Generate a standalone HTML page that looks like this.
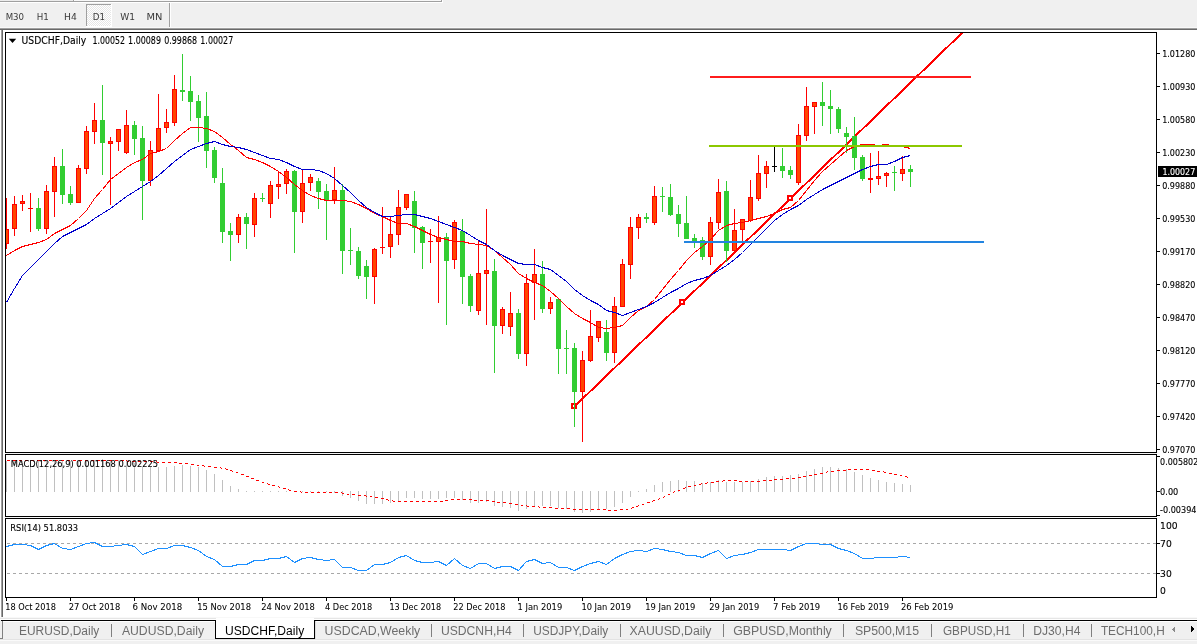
<!DOCTYPE html>
<html><head><meta charset="utf-8"><title>USDCHF,Daily</title>
<style>
html,body{margin:0;padding:0;background:#f0f0f0;overflow:hidden;}
svg{display:block;}
text{font-family:"DejaVu Sans", sans-serif;}
text.l{font-family:"Liberation Sans", Arial, sans-serif;}
</style></head>
<body>
<svg width="1197" height="644" viewBox="0 0 1197 644" shape-rendering="crispEdges">
<defs><pattern id="chk" width="2" height="2" patternUnits="userSpaceOnUse"><rect width="2" height="2" fill="#ffffff"/><rect width="1" height="1" fill="#e6e6e6"/><rect x="1" y="1" width="1" height="1" fill="#e6e6e6"/></pattern></defs>
<rect x="0" y="0" width="1197" height="644" fill="#f0f0f0"/>
<rect x="0" y="0" width="73" height="1" fill="#ececec"/>
<rect x="74" y="0" width="367" height="1" fill="#f8f8f8"/>
<rect x="74" y="0" width="1" height="1" fill="#ffffff"/>
<rect x="0" y="1" width="442" height="1" fill="#a0a0a0"/>
<rect x="73" y="0" width="1" height="2" fill="#a0a0a0"/>
<rect x="441" y="0" width="1" height="2" fill="#a0a0a0"/>
<rect x="0" y="2" width="443" height="1" fill="#ffffff"/>
<rect x="442" y="0" width="1" height="3" fill="#ffffff"/>
<rect x="86" y="4" width="26" height="23" fill="#ffffff"/>
<rect x="87" y="5" width="24" height="21" fill="url(#chk)"/>
<rect x="86" y="4" width="25" height="1" fill="#a0a0a0"/>
<rect x="86" y="4" width="1" height="22" fill="#a0a0a0"/>
<rect x="169" y="3" width="1" height="25" fill="#a0a0a0"/>
<rect x="170" y="3" width="1" height="25" fill="#ffffff"/>
<text x="5.7" y="20" font-size="9.4" fill="#3a3a3a" textLength="18.4" lengthAdjust="spacingAndGlyphs">M30</text>
<text x="36.8" y="20" font-size="9.4" fill="#3a3a3a" textLength="12.1" lengthAdjust="spacingAndGlyphs">H1</text>
<text x="64" y="20" font-size="9.4" fill="#3a3a3a" textLength="12.8" lengthAdjust="spacingAndGlyphs">H4</text>
<text x="92.8" y="20" font-size="9.4" fill="#3a3a3a" textLength="12.2" lengthAdjust="spacingAndGlyphs">D1</text>
<text x="120.3" y="20" font-size="9.4" fill="#3a3a3a" textLength="14.8" lengthAdjust="spacingAndGlyphs">W1</text>
<text x="146.6" y="20" font-size="9.4" fill="#3a3a3a" textLength="15.9" lengthAdjust="spacingAndGlyphs">MN</text>
<rect x="0" y="27" width="1197" height="1" fill="#f8f8f8"/>
<rect x="0" y="28" width="1197" height="1" fill="#a0a0a0"/>
<rect x="1" y="28" width="1" height="590" fill="#a0a0a0"/>
<rect x="0" y="29" width="1197" height="1" fill="#696969"/>
<rect x="2" y="29" width="1" height="589" fill="#696969"/>
<rect x="3" y="30" width="1194" height="588" fill="#ffffff"/>
<rect x="0" y="30" width="1" height="588" fill="#ffffff"/>
<rect x="0" y="617" width="1197" height="1" fill="#f8f8f8"/>
<svg x="6" y="33" width="1150" height="419" viewBox="6 33 1150 419" overflow="hidden">
<polyline points="575,406 683,302 791,198 963,32" fill="none" stroke="#ff0000" stroke-width="2"/>
<rect x="571" y="403" width="6" height="6" fill="#ff0000"/>
<rect x="573" y="405" width="2" height="2" fill="#ffffff"/>
<rect x="679" y="299" width="6" height="6" fill="#ff0000"/>
<rect x="681" y="301" width="2" height="2" fill="#ffffff"/>
<rect x="787" y="195" width="6" height="6" fill="#ff0000"/>
<rect x="789" y="197" width="2" height="2" fill="#ffffff"/>
<rect x="6" y="198" width="1" height="51" fill="#ff0000"/>
<rect x="4" y="229" width="5" height="15" fill="#ff0000"/>
<rect x="5" y="230" width="3" height="13" fill="#ff4500"/>
<rect x="14" y="196" width="1" height="40" fill="#ff0000"/>
<rect x="12" y="204" width="5" height="25" fill="#ff0000"/>
<rect x="13" y="205" width="3" height="23" fill="#ff4500"/>
<rect x="22" y="195" width="1" height="16" fill="#ff0000"/>
<rect x="20" y="201" width="5" height="3" fill="#ff0000"/>
<rect x="21" y="202" width="3" height="1" fill="#ff4500"/>
<rect x="30" y="193" width="1" height="39" fill="#ff0000"/>
<rect x="28" y="208" width="5" height="1" fill="#ff0000"/>
<rect x="38" y="198" width="1" height="33" fill="#32cd32"/>
<rect x="36" y="208" width="5" height="21" fill="#32cd32"/>
<rect x="46" y="185" width="1" height="49" fill="#ff0000"/>
<rect x="44" y="191" width="5" height="38" fill="#ff0000"/>
<rect x="45" y="192" width="3" height="36" fill="#ff4500"/>
<rect x="54" y="157" width="1" height="60" fill="#ff0000"/>
<rect x="52" y="166" width="5" height="26" fill="#ff0000"/>
<rect x="53" y="167" width="3" height="24" fill="#ff4500"/>
<rect x="62" y="149" width="1" height="55" fill="#32cd32"/>
<rect x="60" y="166" width="5" height="29" fill="#32cd32"/>
<rect x="70" y="186" width="1" height="19" fill="#32cd32"/>
<rect x="68" y="194" width="5" height="9" fill="#32cd32"/>
<rect x="78" y="165" width="1" height="38" fill="#ff0000"/>
<rect x="76" y="168" width="5" height="35" fill="#ff0000"/>
<rect x="77" y="169" width="3" height="33" fill="#ff4500"/>
<rect x="86" y="126" width="1" height="48" fill="#ff0000"/>
<rect x="84" y="131" width="5" height="38" fill="#ff0000"/>
<rect x="85" y="132" width="3" height="36" fill="#ff4500"/>
<rect x="94" y="103" width="1" height="41" fill="#ff0000"/>
<rect x="92" y="120" width="5" height="12" fill="#ff0000"/>
<rect x="93" y="121" width="3" height="10" fill="#ff4500"/>
<rect x="102" y="85" width="1" height="90" fill="#32cd32"/>
<rect x="100" y="120" width="5" height="23" fill="#32cd32"/>
<rect x="110" y="137" width="1" height="68" fill="#ff0000"/>
<rect x="108" y="141" width="5" height="3" fill="#ff0000"/>
<rect x="109" y="142" width="3" height="1" fill="#ff4500"/>
<rect x="118" y="129" width="1" height="22" fill="#ff0000"/>
<rect x="116" y="129" width="5" height="13" fill="#ff0000"/>
<rect x="117" y="130" width="3" height="11" fill="#ff4500"/>
<rect x="126" y="110" width="1" height="44" fill="#ff0000"/>
<rect x="124" y="125" width="5" height="28" fill="#ff0000"/>
<rect x="125" y="126" width="3" height="26" fill="#ff4500"/>
<rect x="134" y="121" width="1" height="34" fill="#32cd32"/>
<rect x="132" y="125" width="5" height="14" fill="#32cd32"/>
<rect x="142" y="126" width="1" height="94" fill="#32cd32"/>
<rect x="140" y="138" width="5" height="43" fill="#32cd32"/>
<rect x="150" y="141" width="1" height="45" fill="#ff0000"/>
<rect x="148" y="150" width="5" height="31" fill="#ff0000"/>
<rect x="149" y="151" width="3" height="29" fill="#ff4500"/>
<rect x="158" y="94" width="1" height="57" fill="#ff0000"/>
<rect x="156" y="128" width="5" height="23" fill="#ff0000"/>
<rect x="157" y="129" width="3" height="21" fill="#ff4500"/>
<rect x="166" y="109" width="1" height="24" fill="#ff0000"/>
<rect x="164" y="122" width="5" height="6" fill="#ff0000"/>
<rect x="165" y="123" width="3" height="4" fill="#ff4500"/>
<rect x="174" y="75" width="1" height="51" fill="#ff0000"/>
<rect x="172" y="89" width="5" height="34" fill="#ff0000"/>
<rect x="173" y="90" width="3" height="32" fill="#ff4500"/>
<rect x="182" y="54" width="1" height="47" fill="#32cd32"/>
<rect x="180" y="90" width="5" height="2" fill="#32cd32"/>
<rect x="190" y="76" width="1" height="45" fill="#32cd32"/>
<rect x="188" y="91" width="5" height="11" fill="#32cd32"/>
<rect x="198" y="95" width="1" height="47" fill="#32cd32"/>
<rect x="196" y="101" width="5" height="17" fill="#32cd32"/>
<rect x="206" y="92" width="1" height="76" fill="#32cd32"/>
<rect x="204" y="116" width="5" height="35" fill="#32cd32"/>
<rect x="214" y="147" width="1" height="36" fill="#32cd32"/>
<rect x="212" y="150" width="5" height="28" fill="#32cd32"/>
<rect x="222" y="168" width="1" height="75" fill="#32cd32"/>
<rect x="220" y="183" width="5" height="49" fill="#32cd32"/>
<rect x="230" y="223" width="1" height="38" fill="#32cd32"/>
<rect x="228" y="231" width="5" height="4" fill="#32cd32"/>
<rect x="238" y="214" width="1" height="29" fill="#ff0000"/>
<rect x="236" y="217" width="5" height="18" fill="#ff0000"/>
<rect x="237" y="218" width="3" height="16" fill="#ff4500"/>
<rect x="246" y="213" width="1" height="36" fill="#32cd32"/>
<rect x="244" y="217" width="5" height="7" fill="#32cd32"/>
<rect x="254" y="193" width="1" height="44" fill="#ff0000"/>
<rect x="252" y="198" width="5" height="27" fill="#ff0000"/>
<rect x="253" y="199" width="3" height="25" fill="#ff4500"/>
<rect x="262" y="193" width="1" height="9" fill="#32cd32"/>
<rect x="260" y="198" width="5" height="1" fill="#32cd32"/>
<rect x="270" y="181" width="1" height="37" fill="#ff0000"/>
<rect x="268" y="185" width="5" height="19" fill="#ff0000"/>
<rect x="269" y="186" width="3" height="17" fill="#ff4500"/>
<rect x="278" y="171" width="1" height="28" fill="#ff0000"/>
<rect x="276" y="184" width="5" height="3" fill="#ff0000"/>
<rect x="277" y="185" width="3" height="1" fill="#ff4500"/>
<rect x="286" y="169" width="1" height="25" fill="#ff0000"/>
<rect x="284" y="171" width="5" height="13" fill="#ff0000"/>
<rect x="285" y="172" width="3" height="11" fill="#ff4500"/>
<rect x="294" y="170" width="1" height="83" fill="#32cd32"/>
<rect x="292" y="171" width="5" height="41" fill="#32cd32"/>
<rect x="302" y="170" width="1" height="53" fill="#ff0000"/>
<rect x="300" y="183" width="5" height="29" fill="#ff0000"/>
<rect x="301" y="184" width="3" height="27" fill="#ff4500"/>
<rect x="310" y="174" width="1" height="17" fill="#ff0000"/>
<rect x="308" y="177" width="5" height="6" fill="#ff0000"/>
<rect x="309" y="178" width="3" height="4" fill="#ff4500"/>
<rect x="318" y="178" width="1" height="31" fill="#32cd32"/>
<rect x="316" y="181" width="5" height="11" fill="#32cd32"/>
<rect x="326" y="184" width="1" height="56" fill="#32cd32"/>
<rect x="324" y="191" width="5" height="9" fill="#32cd32"/>
<rect x="334" y="167" width="1" height="37" fill="#ff0000"/>
<rect x="332" y="190" width="5" height="10" fill="#ff0000"/>
<rect x="333" y="191" width="3" height="8" fill="#ff4500"/>
<rect x="342" y="184" width="1" height="90" fill="#32cd32"/>
<rect x="340" y="190" width="5" height="61" fill="#32cd32"/>
<rect x="350" y="228" width="1" height="37" fill="#32cd32"/>
<rect x="348" y="250" width="5" height="1" fill="#32cd32"/>
<rect x="358" y="247" width="1" height="32" fill="#32cd32"/>
<rect x="356" y="251" width="5" height="25" fill="#32cd32"/>
<rect x="366" y="260" width="1" height="39" fill="#32cd32"/>
<rect x="364" y="266" width="5" height="11" fill="#32cd32"/>
<rect x="374" y="248" width="1" height="56" fill="#ff0000"/>
<rect x="372" y="249" width="5" height="28" fill="#ff0000"/>
<rect x="373" y="250" width="3" height="26" fill="#ff4500"/>
<rect x="382" y="207" width="1" height="47" fill="#ff0000"/>
<rect x="380" y="247" width="5" height="1" fill="#ff0000"/>
<rect x="390" y="217" width="1" height="41" fill="#ff0000"/>
<rect x="388" y="234" width="5" height="13" fill="#ff0000"/>
<rect x="389" y="235" width="3" height="11" fill="#ff4500"/>
<rect x="398" y="190" width="1" height="55" fill="#ff0000"/>
<rect x="396" y="207" width="5" height="28" fill="#ff0000"/>
<rect x="397" y="208" width="3" height="26" fill="#ff4500"/>
<rect x="406" y="194" width="1" height="16" fill="#ff0000"/>
<rect x="404" y="194" width="5" height="14" fill="#ff0000"/>
<rect x="405" y="195" width="3" height="12" fill="#ff4500"/>
<rect x="414" y="191" width="1" height="62" fill="#32cd32"/>
<rect x="412" y="201" width="5" height="27" fill="#32cd32"/>
<rect x="422" y="226" width="1" height="43" fill="#32cd32"/>
<rect x="420" y="227" width="5" height="16" fill="#32cd32"/>
<rect x="430" y="229" width="1" height="34" fill="#ff0000"/>
<rect x="428" y="241" width="5" height="1" fill="#ff0000"/>
<rect x="438" y="216" width="1" height="87" fill="#ff0000"/>
<rect x="436" y="237" width="5" height="5" fill="#ff0000"/>
<rect x="437" y="238" width="3" height="3" fill="#ff4500"/>
<rect x="446" y="233" width="1" height="92" fill="#32cd32"/>
<rect x="444" y="237" width="5" height="24" fill="#32cd32"/>
<rect x="454" y="220" width="1" height="49" fill="#ff0000"/>
<rect x="452" y="222" width="5" height="38" fill="#ff0000"/>
<rect x="453" y="223" width="3" height="36" fill="#ff4500"/>
<rect x="462" y="219" width="1" height="85" fill="#32cd32"/>
<rect x="460" y="231" width="5" height="46" fill="#32cd32"/>
<rect x="470" y="274" width="1" height="38" fill="#32cd32"/>
<rect x="468" y="276" width="5" height="30" fill="#32cd32"/>
<rect x="478" y="241" width="1" height="74" fill="#ff0000"/>
<rect x="476" y="273" width="5" height="38" fill="#ff0000"/>
<rect x="477" y="274" width="3" height="36" fill="#ff4500"/>
<rect x="486" y="209" width="1" height="116" fill="#ff0000"/>
<rect x="484" y="270" width="5" height="4" fill="#ff0000"/>
<rect x="485" y="271" width="3" height="2" fill="#ff4500"/>
<rect x="494" y="259" width="1" height="114" fill="#32cd32"/>
<rect x="492" y="271" width="5" height="55" fill="#32cd32"/>
<rect x="502" y="307" width="1" height="27" fill="#ff0000"/>
<rect x="500" y="309" width="5" height="17" fill="#ff0000"/>
<rect x="501" y="310" width="3" height="15" fill="#ff4500"/>
<rect x="510" y="292" width="1" height="44" fill="#ff0000"/>
<rect x="508" y="313" width="5" height="14" fill="#ff0000"/>
<rect x="509" y="314" width="3" height="12" fill="#ff4500"/>
<rect x="518" y="309" width="1" height="50" fill="#32cd32"/>
<rect x="516" y="313" width="5" height="41" fill="#32cd32"/>
<rect x="526" y="274" width="1" height="92" fill="#ff0000"/>
<rect x="524" y="283" width="5" height="71" fill="#ff0000"/>
<rect x="525" y="284" width="3" height="69" fill="#ff4500"/>
<rect x="534" y="249" width="1" height="71" fill="#ff0000"/>
<rect x="532" y="274" width="5" height="9" fill="#ff0000"/>
<rect x="533" y="275" width="3" height="7" fill="#ff4500"/>
<rect x="542" y="261" width="1" height="52" fill="#32cd32"/>
<rect x="540" y="274" width="5" height="35" fill="#32cd32"/>
<rect x="550" y="297" width="1" height="17" fill="#ff0000"/>
<rect x="548" y="302" width="5" height="7" fill="#ff0000"/>
<rect x="549" y="303" width="3" height="5" fill="#ff4500"/>
<rect x="558" y="298" width="1" height="76" fill="#32cd32"/>
<rect x="556" y="299" width="5" height="50" fill="#32cd32"/>
<rect x="566" y="330" width="1" height="44" fill="#32cd32"/>
<rect x="564" y="348" width="5" height="1" fill="#32cd32"/>
<rect x="574" y="343" width="1" height="84" fill="#32cd32"/>
<rect x="572" y="348" width="5" height="44" fill="#32cd32"/>
<rect x="582" y="351" width="1" height="91" fill="#ff0000"/>
<rect x="580" y="360" width="5" height="32" fill="#ff0000"/>
<rect x="581" y="361" width="3" height="30" fill="#ff4500"/>
<rect x="590" y="310" width="1" height="52" fill="#ff0000"/>
<rect x="588" y="336" width="5" height="25" fill="#ff0000"/>
<rect x="589" y="337" width="3" height="23" fill="#ff4500"/>
<rect x="598" y="321" width="1" height="21" fill="#ff0000"/>
<rect x="596" y="321" width="5" height="17" fill="#ff0000"/>
<rect x="597" y="322" width="3" height="15" fill="#ff4500"/>
<rect x="606" y="320" width="1" height="41" fill="#32cd32"/>
<rect x="604" y="332" width="5" height="21" fill="#32cd32"/>
<rect x="614" y="297" width="1" height="66" fill="#ff0000"/>
<rect x="612" y="306" width="5" height="47" fill="#ff0000"/>
<rect x="613" y="307" width="3" height="45" fill="#ff4500"/>
<rect x="622" y="259" width="1" height="48" fill="#ff0000"/>
<rect x="620" y="264" width="5" height="43" fill="#ff0000"/>
<rect x="621" y="265" width="3" height="41" fill="#ff4500"/>
<rect x="630" y="217" width="1" height="62" fill="#ff0000"/>
<rect x="628" y="227" width="5" height="38" fill="#ff0000"/>
<rect x="629" y="228" width="3" height="36" fill="#ff4500"/>
<rect x="638" y="214" width="1" height="25" fill="#ff0000"/>
<rect x="636" y="217" width="5" height="11" fill="#ff0000"/>
<rect x="637" y="218" width="3" height="9" fill="#ff4500"/>
<rect x="646" y="213" width="1" height="10" fill="#32cd32"/>
<rect x="644" y="217" width="5" height="2" fill="#32cd32"/>
<rect x="654" y="186" width="1" height="39" fill="#ff0000"/>
<rect x="652" y="196" width="5" height="27" fill="#ff0000"/>
<rect x="653" y="197" width="3" height="25" fill="#ff4500"/>
<rect x="662" y="187" width="1" height="25" fill="#32cd32"/>
<rect x="660" y="196" width="5" height="1" fill="#32cd32"/>
<rect x="670" y="184" width="1" height="32" fill="#32cd32"/>
<rect x="668" y="197" width="5" height="18" fill="#32cd32"/>
<rect x="678" y="205" width="1" height="32" fill="#32cd32"/>
<rect x="676" y="214" width="5" height="10" fill="#32cd32"/>
<rect x="686" y="196" width="1" height="43" fill="#32cd32"/>
<rect x="684" y="223" width="5" height="16" fill="#32cd32"/>
<rect x="694" y="234" width="1" height="14" fill="#32cd32"/>
<rect x="692" y="238" width="5" height="4" fill="#32cd32"/>
<rect x="702" y="237" width="1" height="23" fill="#32cd32"/>
<rect x="700" y="240" width="5" height="17" fill="#32cd32"/>
<rect x="710" y="217" width="1" height="48" fill="#ff0000"/>
<rect x="708" y="222" width="5" height="35" fill="#ff0000"/>
<rect x="709" y="223" width="3" height="33" fill="#ff4500"/>
<rect x="718" y="179" width="1" height="50" fill="#ff0000"/>
<rect x="716" y="192" width="5" height="31" fill="#ff0000"/>
<rect x="717" y="193" width="3" height="29" fill="#ff4500"/>
<rect x="726" y="181" width="1" height="81" fill="#32cd32"/>
<rect x="724" y="191" width="5" height="60" fill="#32cd32"/>
<rect x="734" y="209" width="1" height="43" fill="#ff0000"/>
<rect x="732" y="230" width="5" height="21" fill="#ff0000"/>
<rect x="733" y="231" width="3" height="19" fill="#ff4500"/>
<rect x="742" y="219" width="1" height="22" fill="#ff0000"/>
<rect x="740" y="219" width="5" height="11" fill="#ff0000"/>
<rect x="741" y="220" width="3" height="9" fill="#ff4500"/>
<rect x="750" y="180" width="1" height="42" fill="#ff0000"/>
<rect x="748" y="197" width="5" height="24" fill="#ff0000"/>
<rect x="749" y="198" width="3" height="22" fill="#ff4500"/>
<rect x="758" y="155" width="1" height="46" fill="#ff0000"/>
<rect x="756" y="173" width="5" height="26" fill="#ff0000"/>
<rect x="757" y="174" width="3" height="24" fill="#ff4500"/>
<rect x="766" y="161" width="1" height="27" fill="#ff0000"/>
<rect x="764" y="166" width="5" height="8" fill="#ff0000"/>
<rect x="765" y="167" width="3" height="6" fill="#ff4500"/>
<rect x="774" y="147" width="1" height="25" fill="#000"/>
<rect x="772" y="166" width="5" height="1" fill="#000"/>
<rect x="782" y="148" width="1" height="30" fill="#32cd32"/>
<rect x="780" y="166" width="5" height="5" fill="#32cd32"/>
<rect x="790" y="166" width="1" height="13" fill="#32cd32"/>
<rect x="788" y="170" width="5" height="5" fill="#32cd32"/>
<rect x="798" y="124" width="1" height="61" fill="#ff0000"/>
<rect x="796" y="135" width="5" height="48" fill="#ff0000"/>
<rect x="797" y="136" width="3" height="46" fill="#ff4500"/>
<rect x="806" y="87" width="1" height="54" fill="#ff0000"/>
<rect x="804" y="106" width="5" height="30" fill="#ff0000"/>
<rect x="805" y="107" width="3" height="28" fill="#ff4500"/>
<rect x="814" y="102" width="1" height="32" fill="#ff0000"/>
<rect x="812" y="102" width="5" height="5" fill="#ff0000"/>
<rect x="813" y="103" width="3" height="3" fill="#ff4500"/>
<rect x="822" y="82" width="1" height="44" fill="#32cd32"/>
<rect x="820" y="102" width="5" height="4" fill="#32cd32"/>
<rect x="830" y="90" width="1" height="44" fill="#32cd32"/>
<rect x="828" y="106" width="5" height="3" fill="#32cd32"/>
<rect x="838" y="107" width="1" height="26" fill="#32cd32"/>
<rect x="836" y="109" width="5" height="20" fill="#32cd32"/>
<rect x="846" y="127" width="1" height="26" fill="#32cd32"/>
<rect x="844" y="133" width="5" height="4" fill="#32cd32"/>
<rect x="854" y="117" width="1" height="53" fill="#32cd32"/>
<rect x="852" y="136" width="5" height="22" fill="#32cd32"/>
<rect x="862" y="155" width="1" height="26" fill="#32cd32"/>
<rect x="860" y="157" width="5" height="22" fill="#32cd32"/>
<rect x="870" y="153" width="1" height="40" fill="#ff0000"/>
<rect x="868" y="178" width="5" height="2" fill="#ff0000"/>
<rect x="878" y="151" width="1" height="34" fill="#ff0000"/>
<rect x="876" y="176" width="5" height="3" fill="#ff0000"/>
<rect x="877" y="177" width="3" height="1" fill="#ff4500"/>
<rect x="886" y="172" width="1" height="15" fill="#ff0000"/>
<rect x="884" y="173" width="5" height="3" fill="#ff0000"/>
<rect x="885" y="174" width="3" height="1" fill="#ff4500"/>
<rect x="894" y="166" width="1" height="25" fill="#32cd32"/>
<rect x="892" y="172" width="5" height="1" fill="#32cd32"/>
<rect x="902" y="156" width="1" height="25" fill="#ff0000"/>
<rect x="900" y="169" width="5" height="5" fill="#ff0000"/>
<rect x="901" y="170" width="3" height="3" fill="#ff4500"/>
<rect x="910" y="165" width="1" height="22" fill="#32cd32"/>
<rect x="908" y="169" width="5" height="3" fill="#32cd32"/>
<polyline points="6.5,255.5 14.5,250.5 22.5,246.5 30.5,244.5 38.5,242.5 46.5,239.5 54.5,233.5 62.5,229.5 70.5,225.5 78.5,218.5 86.5,210.5 94.5,198.5 102.5,189.5 110.5,179.5 118.5,173.5 126.5,167.5 134.5,162.5 142.5,159.5 150.5,153.5 158.5,151.5 166.5,148.5 174.5,140.5 182.5,133.5 190.5,127.5 198.5,127.5 206.5,128.5 214.5,131.5 222.5,137.5 230.5,144.5 238.5,150.5 246.5,157.5 254.5,159.5 262.5,162.5 270.5,166.5 278.5,171.5 286.5,177.5 294.5,184.5 302.5,190.5 310.5,195.5 318.5,198.5 326.5,200.5 334.5,200.5 342.5,200.5 350.5,201.5 358.5,204.5 366.5,208.5 374.5,213.5 382.5,216.5 390.5,220.5 398.5,223.5 406.5,223.5 414.5,226.5 422.5,230.5 430.5,234.5 438.5,237.5 446.5,239.5 454.5,241.5 462.5,241.5 470.5,243.5 478.5,244.5 486.5,245.5 494.5,250.5 502.5,257.5 510.5,264.5 518.5,273.5 526.5,278.5 534.5,282.5 542.5,285.5 550.5,291.5 558.5,298.5 566.5,306.5 574.5,313.5 582.5,318.5 590.5,322.5 598.5,327.5 606.5,328.5 614.5,327.5 622.5,325.5 630.5,317.5 638.5,310.5 646.5,306.5 654.5,299.5 662.5,289.5 670.5,279.5 678.5,270.5 686.5,260.5 694.5,252.5 702.5,246.5 710.5,239.5 718.5,230.5 726.5,225.5 734.5,223.5 742.5,222.5 750.5,220.5 758.5,218.5 766.5,216.5 774.5,213.5 782.5,209.5 790.5,207.5 798.5,200.5 806.5,190.5 814.5,180.5 822.5,171.5 830.5,164.5 838.5,157.5 846.5,150.5 854.5,146.5 862.5,144.5 870.5,144.5 878.5,145.5 886.5,144.5 894.5,146.5 902.5,146.5 910.5,148.5" fill="none" stroke="#ff0000" stroke-width="1"/>
<polyline points="6.5,302.5 14.5,288.5 22.5,275.5 30.5,267.5 38.5,259.5 46.5,251.5 54.5,243.5 62.5,236.5 70.5,232.5 78.5,228.5 86.5,224.5 94.5,218.5 102.5,213.5 110.5,208.5 118.5,202.5 126.5,196.5 134.5,191.5 142.5,186.5 150.5,181.5 158.5,175.5 166.5,168.5 174.5,161.5 182.5,155.5 190.5,149.5 198.5,146.5 206.5,143.5 214.5,141.5 222.5,144.5 230.5,146.5 238.5,147.5 246.5,149.5 254.5,152.5 262.5,155.5 270.5,158.5 278.5,159.5 286.5,162.5 294.5,166.5 302.5,169.5 310.5,169.5 318.5,170.5 326.5,173.5 334.5,178.5 342.5,185.5 350.5,192.5 358.5,200.5 366.5,207.5 374.5,212.5 382.5,216.5 390.5,216.5 398.5,215.5 406.5,214.5 414.5,214.5 422.5,216.5 430.5,218.5 438.5,221.5 446.5,224.5 454.5,227.5 462.5,230.5 470.5,235.5 478.5,240.5 486.5,244.5 494.5,250.5 502.5,255.5 510.5,259.5 518.5,263.5 526.5,264.5 534.5,264.5 542.5,267.5 550.5,269.5 558.5,275.5 566.5,281.5 574.5,289.5 582.5,295.5 590.5,300.5 598.5,304.5 606.5,310.5 614.5,312.5 622.5,315.5 630.5,312.5 638.5,309.5 646.5,306.5 654.5,302.5 662.5,297.5 670.5,292.5 678.5,288.5 686.5,283.5 694.5,280.5 702.5,278.5 710.5,275.5 718.5,270.5 726.5,265.5 734.5,259.5 742.5,252.5 750.5,244.5 758.5,236.5 766.5,228.5 774.5,220.5 782.5,214.5 790.5,209.5 798.5,205.5 806.5,199.5 814.5,194.5 822.5,189.5 830.5,185.5 838.5,181.5 846.5,177.5 854.5,173.5 862.5,169.5 870.5,166.5 878.5,164.5 886.5,164.5 894.5,161.5 902.5,157.5 910.5,155.5" fill="none" stroke="#0000cd" stroke-width="1"/>
<rect x="710" y="76" width="261" height="2" fill="#ff1c1c"/>
<rect x="709" y="145" width="253" height="2" fill="#8cc800"/>
<rect x="684" y="241" width="300" height="2" fill="#2284e0"/>
</svg>
<rect x="5" y="32" width="1152" height="1" fill="#000"/>
<rect x="5" y="452" width="1152" height="1" fill="#000"/>
<rect x="5" y="32" width="1" height="421" fill="#000"/>
<rect x="1156" y="32" width="1" height="421" fill="#000"/>
<rect x="1157" y="53" width="3" height="1" fill="#000"/>
<text x="1162.2" y="56.9" font-size="9.3" fill="#000" stroke="#000" stroke-width="0.12" textLength="33.2" lengthAdjust="spacingAndGlyphs">1.01280</text>
<rect x="1157" y="86" width="3" height="1" fill="#000"/>
<text x="1162.2" y="89.9" font-size="9.3" fill="#000" stroke="#000" stroke-width="0.12" textLength="33.2" lengthAdjust="spacingAndGlyphs">1.00930</text>
<rect x="1157" y="119" width="3" height="1" fill="#000"/>
<text x="1162.2" y="122.9" font-size="9.3" fill="#000" stroke="#000" stroke-width="0.12" textLength="33.2" lengthAdjust="spacingAndGlyphs">1.00580</text>
<rect x="1157" y="152" width="3" height="1" fill="#000"/>
<text x="1162.2" y="155.9" font-size="9.3" fill="#000" stroke="#000" stroke-width="0.12" textLength="33.2" lengthAdjust="spacingAndGlyphs">1.00230</text>
<rect x="1157" y="185" width="3" height="1" fill="#000"/>
<text x="1162.2" y="188.9" font-size="9.3" fill="#000" stroke="#000" stroke-width="0.12" textLength="33.2" lengthAdjust="spacingAndGlyphs">0.99880</text>
<rect x="1157" y="218" width="3" height="1" fill="#000"/>
<text x="1162.2" y="221.9" font-size="9.3" fill="#000" stroke="#000" stroke-width="0.12" textLength="33.2" lengthAdjust="spacingAndGlyphs">0.99530</text>
<rect x="1157" y="251" width="3" height="1" fill="#000"/>
<text x="1162.2" y="254.9" font-size="9.3" fill="#000" stroke="#000" stroke-width="0.12" textLength="33.2" lengthAdjust="spacingAndGlyphs">0.99170</text>
<rect x="1157" y="284" width="3" height="1" fill="#000"/>
<text x="1162.2" y="287.9" font-size="9.3" fill="#000" stroke="#000" stroke-width="0.12" textLength="33.2" lengthAdjust="spacingAndGlyphs">0.98820</text>
<rect x="1157" y="317" width="3" height="1" fill="#000"/>
<text x="1162.2" y="320.9" font-size="9.3" fill="#000" stroke="#000" stroke-width="0.12" textLength="33.2" lengthAdjust="spacingAndGlyphs">0.98470</text>
<rect x="1157" y="350" width="3" height="1" fill="#000"/>
<text x="1162.2" y="353.9" font-size="9.3" fill="#000" stroke="#000" stroke-width="0.12" textLength="33.2" lengthAdjust="spacingAndGlyphs">0.98120</text>
<rect x="1157" y="383" width="3" height="1" fill="#000"/>
<text x="1162.2" y="386.9" font-size="9.3" fill="#000" stroke="#000" stroke-width="0.12" textLength="33.2" lengthAdjust="spacingAndGlyphs">0.97770</text>
<rect x="1157" y="416" width="3" height="1" fill="#000"/>
<text x="1162.2" y="419.9" font-size="9.3" fill="#000" stroke="#000" stroke-width="0.12" textLength="33.2" lengthAdjust="spacingAndGlyphs">0.97420</text>
<rect x="1157" y="449" width="3" height="1" fill="#000"/>
<text x="1162.2" y="452.9" font-size="9.3" fill="#000" stroke="#000" stroke-width="0.12" textLength="33.2" lengthAdjust="spacingAndGlyphs">0.97070</text>
<rect x="1158" y="166" width="39" height="11" fill="#000"/>
<text x="1162.4" y="175" font-size="9.3" fill="#fff" stroke="#fff" stroke-width="0.12" textLength="32.8" lengthAdjust="spacingAndGlyphs">1.00027</text>
<polygon points="8.8,38.8 16.2,38.8 12.5,43" fill="#000" shape-rendering="auto"/>
<text x="21.5" y="44" font-size="9.7" fill="#000" stroke="#000" stroke-width="0.12" textLength="64.8" lengthAdjust="spacingAndGlyphs">USDCHF,Daily</text>
<text x="92.39999999999999" y="44" font-size="9.7" fill="#000" stroke="#000" stroke-width="0.12" textLength="32.5" lengthAdjust="spacingAndGlyphs">1.00052</text>
<text x="128.10000000000002" y="44" font-size="9.7" fill="#000" stroke="#000" stroke-width="0.12" textLength="32.9" lengthAdjust="spacingAndGlyphs">1.00089</text>
<text x="164.20000000000002" y="44" font-size="9.7" fill="#000" stroke="#000" stroke-width="0.12" textLength="32.9" lengthAdjust="spacingAndGlyphs">0.99868</text>
<text x="200.3" y="44" font-size="9.7" fill="#000" stroke="#000" stroke-width="0.12" textLength="32.9" lengthAdjust="spacingAndGlyphs">1.00027</text>
<rect x="5" y="453" width="1152" height="1" fill="#f0f0f0"/>
<svg x="6" y="455" width="1150" height="61" viewBox="6 455 1150 61" overflow="hidden">
<rect x="6" y="461" width="1" height="31" fill="#c0c0c0"/>
<rect x="14" y="461" width="1" height="31" fill="#c0c0c0"/>
<rect x="22" y="461" width="1" height="31" fill="#c0c0c0"/>
<rect x="30" y="461" width="1" height="31" fill="#c0c0c0"/>
<rect x="38" y="461" width="1" height="31" fill="#c0c0c0"/>
<rect x="46" y="461" width="1" height="31" fill="#c0c0c0"/>
<rect x="54" y="461" width="1" height="31" fill="#c0c0c0"/>
<rect x="62" y="461" width="1" height="31" fill="#c0c0c0"/>
<rect x="70" y="461" width="1" height="31" fill="#c0c0c0"/>
<rect x="78" y="461" width="1" height="31" fill="#c0c0c0"/>
<rect x="86" y="461" width="1" height="31" fill="#c0c0c0"/>
<rect x="94" y="460" width="1" height="32" fill="#c0c0c0"/>
<rect x="102" y="459" width="1" height="33" fill="#c0c0c0"/>
<rect x="110" y="460" width="1" height="32" fill="#c0c0c0"/>
<rect x="118" y="460" width="1" height="32" fill="#c0c0c0"/>
<rect x="126" y="461" width="1" height="31" fill="#c0c0c0"/>
<rect x="134" y="463" width="1" height="29" fill="#c0c0c0"/>
<rect x="142" y="467" width="1" height="25" fill="#c0c0c0"/>
<rect x="150" y="467" width="1" height="25" fill="#c0c0c0"/>
<rect x="158" y="467" width="1" height="25" fill="#c0c0c0"/>
<rect x="166" y="467" width="1" height="25" fill="#c0c0c0"/>
<rect x="174" y="466" width="1" height="26" fill="#c0c0c0"/>
<rect x="182" y="465" width="1" height="27" fill="#c0c0c0"/>
<rect x="190" y="466" width="1" height="26" fill="#c0c0c0"/>
<rect x="198" y="467" width="1" height="25" fill="#c0c0c0"/>
<rect x="206" y="470" width="1" height="22" fill="#c0c0c0"/>
<rect x="214" y="474" width="1" height="18" fill="#c0c0c0"/>
<rect x="222" y="480" width="1" height="12" fill="#c0c0c0"/>
<rect x="230" y="486" width="1" height="6" fill="#c0c0c0"/>
<rect x="238" y="489" width="1" height="3" fill="#c0c0c0"/>
<rect x="246" y="491" width="1" height="1" fill="#c0c0c0"/>
<rect x="254" y="491" width="1" height="1" fill="#c0c0c0"/>
<rect x="262" y="491" width="1" height="1" fill="#c0c0c0"/>
<rect x="270" y="491" width="1" height="1" fill="#c0c0c0"/>
<rect x="278" y="491" width="1" height="1" fill="#c0c0c0"/>
<rect x="286" y="491" width="1" height="1" fill="#c0c0c0"/>
<rect x="294" y="491" width="1" height="1" fill="#c0c0c0"/>
<rect x="302" y="491" width="1" height="1" fill="#c0c0c0"/>
<rect x="310" y="491" width="1" height="1" fill="#c0c0c0"/>
<rect x="318" y="491" width="1" height="1" fill="#c0c0c0"/>
<rect x="326" y="491" width="1" height="1" fill="#c0c0c0"/>
<rect x="334" y="491" width="1" height="2" fill="#c0c0c0"/>
<rect x="342" y="491" width="1" height="5" fill="#c0c0c0"/>
<rect x="350" y="491" width="1" height="7" fill="#c0c0c0"/>
<rect x="358" y="491" width="1" height="10" fill="#c0c0c0"/>
<rect x="366" y="491" width="1" height="13" fill="#c0c0c0"/>
<rect x="374" y="491" width="1" height="13" fill="#c0c0c0"/>
<rect x="382" y="491" width="1" height="13" fill="#c0c0c0"/>
<rect x="390" y="491" width="1" height="12" fill="#c0c0c0"/>
<rect x="398" y="491" width="1" height="10" fill="#c0c0c0"/>
<rect x="406" y="491" width="1" height="7" fill="#c0c0c0"/>
<rect x="414" y="491" width="1" height="7" fill="#c0c0c0"/>
<rect x="422" y="491" width="1" height="8" fill="#c0c0c0"/>
<rect x="430" y="491" width="1" height="8" fill="#c0c0c0"/>
<rect x="438" y="491" width="1" height="8" fill="#c0c0c0"/>
<rect x="446" y="491" width="1" height="7" fill="#c0c0c0"/>
<rect x="454" y="491" width="1" height="7" fill="#c0c0c0"/>
<rect x="462" y="491" width="1" height="9" fill="#c0c0c0"/>
<rect x="470" y="491" width="1" height="12" fill="#c0c0c0"/>
<rect x="478" y="491" width="1" height="12" fill="#c0c0c0"/>
<rect x="486" y="491" width="1" height="11" fill="#c0c0c0"/>
<rect x="494" y="491" width="1" height="15" fill="#c0c0c0"/>
<rect x="502" y="491" width="1" height="16" fill="#c0c0c0"/>
<rect x="510" y="491" width="1" height="17" fill="#c0c0c0"/>
<rect x="518" y="491" width="1" height="20" fill="#c0c0c0"/>
<rect x="526" y="491" width="1" height="18" fill="#c0c0c0"/>
<rect x="534" y="491" width="1" height="15" fill="#c0c0c0"/>
<rect x="542" y="491" width="1" height="15" fill="#c0c0c0"/>
<rect x="550" y="491" width="1" height="15" fill="#c0c0c0"/>
<rect x="558" y="491" width="1" height="17" fill="#c0c0c0"/>
<rect x="566" y="491" width="1" height="18" fill="#c0c0c0"/>
<rect x="574" y="491" width="1" height="21" fill="#c0c0c0"/>
<rect x="582" y="491" width="1" height="22" fill="#c0c0c0"/>
<rect x="590" y="491" width="1" height="21" fill="#c0c0c0"/>
<rect x="598" y="491" width="1" height="19" fill="#c0c0c0"/>
<rect x="606" y="491" width="1" height="18" fill="#c0c0c0"/>
<rect x="614" y="491" width="1" height="16" fill="#c0c0c0"/>
<rect x="622" y="491" width="1" height="12" fill="#c0c0c0"/>
<rect x="630" y="491" width="1" height="6" fill="#c0c0c0"/>
<rect x="638" y="491" width="1" height="1" fill="#c0c0c0"/>
<rect x="646" y="489" width="1" height="3" fill="#c0c0c0"/>
<rect x="654" y="485" width="1" height="7" fill="#c0c0c0"/>
<rect x="662" y="482" width="1" height="10" fill="#c0c0c0"/>
<rect x="670" y="481" width="1" height="11" fill="#c0c0c0"/>
<rect x="678" y="480" width="1" height="12" fill="#c0c0c0"/>
<rect x="686" y="481" width="1" height="11" fill="#c0c0c0"/>
<rect x="694" y="481" width="1" height="11" fill="#c0c0c0"/>
<rect x="702" y="483" width="1" height="9" fill="#c0c0c0"/>
<rect x="710" y="482" width="1" height="10" fill="#c0c0c0"/>
<rect x="718" y="480" width="1" height="12" fill="#c0c0c0"/>
<rect x="726" y="482" width="1" height="10" fill="#c0c0c0"/>
<rect x="734" y="482" width="1" height="10" fill="#c0c0c0"/>
<rect x="742" y="482" width="1" height="10" fill="#c0c0c0"/>
<rect x="750" y="481" width="1" height="11" fill="#c0c0c0"/>
<rect x="758" y="479" width="1" height="13" fill="#c0c0c0"/>
<rect x="766" y="477" width="1" height="15" fill="#c0c0c0"/>
<rect x="774" y="476" width="1" height="16" fill="#c0c0c0"/>
<rect x="782" y="476" width="1" height="16" fill="#c0c0c0"/>
<rect x="790" y="475" width="1" height="17" fill="#c0c0c0"/>
<rect x="798" y="474" width="1" height="18" fill="#c0c0c0"/>
<rect x="806" y="471" width="1" height="21" fill="#c0c0c0"/>
<rect x="814" y="469" width="1" height="23" fill="#c0c0c0"/>
<rect x="822" y="467" width="1" height="25" fill="#c0c0c0"/>
<rect x="830" y="467" width="1" height="25" fill="#c0c0c0"/>
<rect x="838" y="468" width="1" height="24" fill="#c0c0c0"/>
<rect x="846" y="469" width="1" height="23" fill="#c0c0c0"/>
<rect x="854" y="472" width="1" height="20" fill="#c0c0c0"/>
<rect x="862" y="475" width="1" height="17" fill="#c0c0c0"/>
<rect x="870" y="478" width="1" height="14" fill="#c0c0c0"/>
<rect x="878" y="480" width="1" height="12" fill="#c0c0c0"/>
<rect x="886" y="482" width="1" height="10" fill="#c0c0c0"/>
<rect x="894" y="483" width="1" height="9" fill="#c0c0c0"/>
<rect x="902" y="484" width="1" height="8" fill="#c0c0c0"/>
<rect x="910" y="485" width="1" height="7" fill="#c0c0c0"/>
<polyline points="6.5,460.5 7.5,460.5 8.5,460.5 9.5,460.5 10.5,460.5 11.5,460.5 12.5,460.5 13.5,460.5 14.5,460.5 15.5,460.5 16.5,460.5 17.5,460.5 18.5,460.5 19.5,460.5 20.5,460.5 21.5,460.5 22.5,460.5 23.5,460.5 24.5,460.5 25.5,460.5 26.5,460.5 27.5,460.5 28.5,460.5 29.5,460.5 30.5,460.5 31.5,460.5 32.5,460.5 33.5,460.5 34.5,460.5 35.5,460.5 36.5,460.5 37.5,460.5 38.5,460.5 39.5,460.5 40.5,460.5 41.5,460.5 42.5,460.5 43.5,460.5 44.5,460.5 45.5,460.5 46.5,460.5 47.5,460.5 48.5,460.5 49.5,460.5 50.5,460.5 51.5,460.5 52.5,460.5 53.5,460.5 54.5,460.5 55.5,460.5 56.5,460.5 57.5,460.5 58.5,460.5 59.5,460.5 60.5,460.5 61.5,460.5 62.5,460.5 63.5,460.5 64.5,460.5 65.5,460.5 66.5,460.5 67.5,460.5 68.5,460.5 69.5,460.5 70.5,460.5 71.5,460.5 72.5,460.5 73.5,460.5 74.5,460.5 75.5,460.5 76.5,460.5 77.5,460.5 78.5,460.5 79.5,460.5 80.5,460.5 81.5,460.5 82.5,460.5 83.5,460.5 84.5,460.5 85.5,460.5 86.5,460.5 87.5,460.5 88.5,460.5 89.5,460.5 90.5,460.5 91.5,460.5 92.5,460.5 93.5,460.5 94.5,460.5 95.5,460.5 96.5,460.5 97.5,460.5 98.5,460.5 99.5,460.5 100.5,460.5 101.5,460.5 102.5,460.5 103.5,460.5 104.5,460.5 105.5,460.5 106.5,460.5 107.5,460.5 108.5,460.5 109.5,460.5 110.5,460.5 111.5,460.5 112.5,460.5 113.5,460.5 114.5,460.5 115.5,460.5 116.5,460.5 117.5,460.5 118.5,460.5 119.5,460.5 120.5,460.5 121.5,460.5 122.5,460.5 123.5,460.5 124.5,460.5 125.5,460.5 126.5,460.5 127.5,461.5 128.5,461.5 129.5,461.5 130.5,461.5 131.5,461.5 132.5,461.5 133.5,461.5 134.5,461.5 135.5,461.5 136.5,461.5 137.5,461.5 138.5,461.5 139.5,461.5 140.5,461.5 141.5,461.5 142.5,461.5 143.5,461.5 144.5,461.5 145.5,461.5 146.5,461.5 147.5,461.5 148.5,461.5 149.5,461.5 150.5,461.5 151.5,461.5 152.5,461.5 153.5,461.5 154.5,461.5 155.5,461.5 156.5,461.5 157.5,462.5 158.5,462.5 159.5,462.5 160.5,462.5 161.5,462.5 162.5,462.5 163.5,462.5 164.5,462.5 165.5,462.5 166.5,462.5 167.5,462.5 168.5,462.5 169.5,462.5 170.5,462.5 171.5,462.5 172.5,462.5 173.5,462.5 174.5,462.5 175.5,462.5 176.5,462.5 177.5,463.5 178.5,463.5 179.5,463.5 180.5,463.5 181.5,463.5 182.5,463.5 183.5,463.5 184.5,463.5 185.5,463.5 186.5,463.5 187.5,463.5 188.5,464.5 189.5,464.5 190.5,464.5 191.5,464.5 192.5,464.5 193.5,464.5 194.5,464.5 195.5,464.5 196.5,464.5 197.5,465.5 198.5,465.5 199.5,465.5 200.5,465.5 201.5,465.5 202.5,465.5 203.5,465.5 204.5,466.5 205.5,466.5 206.5,466.5 207.5,466.5 208.5,466.5 209.5,466.5 210.5,466.5 211.5,466.5 212.5,466.5 213.5,467.5 214.5,467.5 215.5,467.5 216.5,467.5 217.5,467.5 218.5,467.5 219.5,467.5 220.5,467.5 221.5,468.5 222.5,468.5 223.5,468.5 224.5,468.5 225.5,468.5 226.5,469.5 227.5,469.5 228.5,469.5 229.5,470.5 230.5,470.5 231.5,470.5 232.5,471.5 233.5,471.5 234.5,471.5 235.5,472.5 236.5,472.5 237.5,472.5 238.5,473.5 239.5,473.5 240.5,473.5 241.5,474.5 242.5,474.5 243.5,474.5 244.5,475.5 245.5,475.5 246.5,476.5 247.5,476.5 248.5,476.5 249.5,477.5 250.5,477.5 251.5,478.5 252.5,478.5 253.5,478.5 254.5,479.5 255.5,479.5 256.5,480.5 257.5,480.5 258.5,480.5 259.5,481.5 260.5,481.5 261.5,481.5 262.5,482.5 263.5,482.5 264.5,483.5 265.5,483.5 266.5,483.5 267.5,483.5 268.5,484.5 269.5,484.5 270.5,484.5 271.5,485.5 272.5,485.5 273.5,485.5 274.5,485.5 275.5,486.5 276.5,486.5 277.5,486.5 278.5,486.5 279.5,487.5 280.5,487.5 281.5,487.5 282.5,487.5 283.5,488.5 284.5,488.5 285.5,488.5 286.5,489.5 287.5,489.5 288.5,489.5 289.5,490.5 290.5,490.5 291.5,490.5 292.5,490.5 293.5,491.5 294.5,491.5 295.5,491.5 296.5,491.5 297.5,491.5 298.5,491.5 299.5,491.5 300.5,491.5 301.5,492.5 302.5,492.5 303.5,492.5 304.5,492.5 305.5,492.5 306.5,492.5 307.5,492.5 308.5,492.5 309.5,492.5 310.5,492.5 311.5,492.5 312.5,492.5 313.5,492.5 314.5,492.5 315.5,492.5 316.5,492.5 317.5,492.5 318.5,492.5 319.5,492.5 320.5,492.5 321.5,492.5 322.5,492.5 323.5,492.5 324.5,492.5 325.5,492.5 326.5,492.5 327.5,492.5 328.5,492.5 329.5,492.5 330.5,492.5 331.5,492.5 332.5,492.5 333.5,492.5 334.5,492.5 335.5,492.5 336.5,492.5 337.5,492.5 338.5,492.5 339.5,492.5 340.5,492.5 341.5,492.5 342.5,493.5 343.5,493.5 344.5,493.5 345.5,493.5 346.5,493.5 347.5,494.5 348.5,494.5 349.5,494.5 350.5,494.5 351.5,494.5 352.5,494.5 353.5,494.5 354.5,494.5 355.5,495.5 356.5,495.5 357.5,495.5 358.5,495.5 359.5,495.5 360.5,495.5 361.5,495.5 362.5,495.5 363.5,495.5 364.5,495.5 365.5,495.5 366.5,496.5 367.5,496.5 368.5,496.5 369.5,496.5 370.5,496.5 371.5,496.5 372.5,497.5 373.5,497.5 374.5,497.5 375.5,497.5 376.5,497.5 377.5,497.5 378.5,497.5 379.5,497.5 380.5,498.5 381.5,498.5 382.5,498.5 383.5,498.5 384.5,499.5 385.5,499.5 386.5,499.5 387.5,499.5 388.5,500.5 389.5,500.5 390.5,500.5 391.5,500.5 392.5,500.5 393.5,501.5 394.5,501.5 395.5,501.5 396.5,501.5 397.5,501.5 398.5,501.5 399.5,501.5 400.5,501.5 401.5,501.5 402.5,501.5 403.5,501.5 404.5,501.5 405.5,501.5 406.5,501.5 407.5,501.5 408.5,501.5 409.5,501.5 410.5,501.5 411.5,501.5 412.5,501.5 413.5,501.5 414.5,501.5 415.5,501.5 416.5,501.5 417.5,501.5 418.5,501.5 419.5,501.5 420.5,501.5 421.5,501.5 422.5,501.5 423.5,501.5 424.5,501.5 425.5,501.5 426.5,501.5 427.5,501.5 428.5,501.5 429.5,501.5 430.5,501.5 431.5,501.5 432.5,501.5 433.5,501.5 434.5,501.5 435.5,501.5 436.5,501.5 437.5,501.5 438.5,501.5 439.5,501.5 440.5,501.5 441.5,501.5 442.5,501.5 443.5,500.5 444.5,500.5 445.5,500.5 446.5,500.5 447.5,500.5 448.5,500.5 449.5,500.5 450.5,500.5 451.5,499.5 452.5,499.5 453.5,499.5 454.5,499.5 455.5,499.5 456.5,499.5 457.5,499.5 458.5,499.5 459.5,499.5 460.5,499.5 461.5,499.5 462.5,499.5 463.5,499.5 464.5,499.5 465.5,499.5 466.5,499.5 467.5,499.5 468.5,499.5 469.5,499.5 470.5,499.5 471.5,499.5 472.5,499.5 473.5,500.5 474.5,500.5 475.5,500.5 476.5,500.5 477.5,500.5 478.5,500.5 479.5,500.5 480.5,500.5 481.5,500.5 482.5,500.5 483.5,500.5 484.5,500.5 485.5,500.5 486.5,500.5 487.5,500.5 488.5,500.5 489.5,500.5 490.5,500.5 491.5,501.5 492.5,501.5 493.5,501.5 494.5,501.5 495.5,501.5 496.5,501.5 497.5,502.5 498.5,502.5 499.5,502.5 500.5,502.5 501.5,502.5 502.5,502.5 503.5,502.5 504.5,502.5 505.5,502.5 506.5,503.5 507.5,503.5 508.5,503.5 509.5,503.5 510.5,503.5 511.5,503.5 512.5,503.5 513.5,503.5 514.5,503.5 515.5,504.5 516.5,504.5 517.5,504.5 518.5,504.5 519.5,504.5 520.5,504.5 521.5,505.5 522.5,505.5 523.5,505.5 524.5,505.5 525.5,505.5 526.5,505.5 527.5,506.5 528.5,506.5 529.5,506.5 530.5,506.5 531.5,506.5 532.5,506.5 533.5,506.5 534.5,506.5 535.5,506.5 536.5,506.5 537.5,506.5 538.5,506.5 539.5,507.5 540.5,507.5 541.5,507.5 542.5,507.5 543.5,507.5 544.5,507.5 545.5,507.5 546.5,507.5 547.5,507.5 548.5,507.5 549.5,507.5 550.5,507.5 551.5,507.5 552.5,507.5 553.5,507.5 554.5,508.5 555.5,508.5 556.5,508.5 557.5,508.5 558.5,508.5 559.5,508.5 560.5,508.5 561.5,508.5 562.5,508.5 563.5,508.5 564.5,508.5 565.5,508.5 566.5,508.5 567.5,508.5 568.5,508.5 569.5,508.5 570.5,509.5 571.5,509.5 572.5,509.5 573.5,509.5 574.5,509.5 575.5,509.5 576.5,509.5 577.5,509.5 578.5,509.5 579.5,509.5 580.5,509.5 581.5,509.5 582.5,509.5 583.5,509.5 584.5,509.5 585.5,509.5 586.5,509.5 587.5,509.5 588.5,509.5 589.5,509.5 590.5,509.5 591.5,509.5 592.5,509.5 593.5,509.5 594.5,509.5 595.5,509.5 596.5,509.5 597.5,509.5 598.5,509.5 599.5,509.5 600.5,509.5 601.5,509.5 602.5,509.5 603.5,509.5 604.5,509.5 605.5,509.5 606.5,510.5 607.5,510.5 608.5,510.5 609.5,510.5 610.5,510.5 611.5,510.5 612.5,510.5 613.5,510.5 614.5,510.5 615.5,510.5 616.5,510.5 617.5,510.5 618.5,510.5 619.5,510.5 620.5,509.5 621.5,509.5 622.5,509.5 623.5,509.5 624.5,509.5 625.5,509.5 626.5,509.5 627.5,509.5 628.5,508.5 629.5,508.5 630.5,508.5 631.5,508.5 632.5,507.5 633.5,507.5 634.5,507.5 635.5,506.5 636.5,506.5 637.5,506.5 638.5,505.5 639.5,505.5 640.5,505.5 641.5,504.5 642.5,504.5 643.5,504.5 644.5,503.5 645.5,503.5 646.5,503.5 647.5,502.5 648.5,502.5 649.5,502.5 650.5,501.5 651.5,501.5 652.5,501.5 653.5,500.5 654.5,500.5 655.5,500.5 656.5,499.5 657.5,499.5 658.5,499.5 659.5,498.5 660.5,498.5 661.5,497.5 662.5,497.5 663.5,497.5 664.5,496.5 665.5,496.5 666.5,495.5 667.5,495.5 668.5,494.5 669.5,494.5 670.5,493.5 671.5,493.5 672.5,492.5 673.5,492.5 674.5,491.5 675.5,491.5 676.5,491.5 677.5,490.5 678.5,490.5 679.5,490.5 680.5,489.5 681.5,489.5 682.5,489.5 683.5,488.5 684.5,488.5 685.5,487.5 686.5,487.5 687.5,487.5 688.5,486.5 689.5,486.5 690.5,486.5 691.5,486.5 692.5,485.5 693.5,485.5 694.5,485.5 695.5,485.5 696.5,484.5 697.5,484.5 698.5,484.5 699.5,484.5 700.5,484.5 701.5,483.5 702.5,483.5 703.5,483.5 704.5,483.5 705.5,483.5 706.5,483.5 707.5,482.5 708.5,482.5 709.5,482.5 710.5,482.5 711.5,482.5 712.5,482.5 713.5,482.5 714.5,481.5 715.5,481.5 716.5,481.5 717.5,481.5 718.5,481.5 719.5,481.5 720.5,481.5 721.5,481.5 722.5,481.5 723.5,480.5 724.5,480.5 725.5,480.5 726.5,480.5 727.5,480.5 728.5,480.5 729.5,480.5 730.5,480.5 731.5,480.5 732.5,480.5 733.5,480.5 734.5,480.5 735.5,480.5 736.5,480.5 737.5,480.5 738.5,481.5 739.5,481.5 740.5,481.5 741.5,481.5 742.5,481.5 743.5,481.5 744.5,481.5 745.5,481.5 746.5,481.5 747.5,481.5 748.5,481.5 749.5,481.5 750.5,481.5 751.5,481.5 752.5,481.5 753.5,481.5 754.5,481.5 755.5,481.5 756.5,481.5 757.5,481.5 758.5,481.5 759.5,481.5 760.5,480.5 761.5,480.5 762.5,480.5 763.5,480.5 764.5,480.5 765.5,480.5 766.5,480.5 767.5,480.5 768.5,480.5 769.5,480.5 770.5,480.5 771.5,480.5 772.5,479.5 773.5,479.5 774.5,479.5 775.5,479.5 776.5,479.5 777.5,479.5 778.5,479.5 779.5,479.5 780.5,479.5 781.5,479.5 782.5,479.5 783.5,479.5 784.5,479.5 785.5,479.5 786.5,478.5 787.5,478.5 788.5,478.5 789.5,478.5 790.5,478.5 791.5,478.5 792.5,478.5 793.5,478.5 794.5,478.5 795.5,477.5 796.5,477.5 797.5,477.5 798.5,477.5 799.5,477.5 800.5,477.5 801.5,477.5 802.5,476.5 803.5,476.5 804.5,476.5 805.5,476.5 806.5,476.5 807.5,476.5 808.5,475.5 809.5,475.5 810.5,475.5 811.5,475.5 812.5,474.5 813.5,474.5 814.5,474.5 815.5,474.5 816.5,474.5 817.5,474.5 818.5,473.5 819.5,473.5 820.5,473.5 821.5,473.5 822.5,473.5 823.5,472.5 824.5,472.5 825.5,472.5 826.5,472.5 827.5,471.5 828.5,471.5 829.5,471.5 830.5,471.5 831.5,471.5 832.5,471.5 833.5,471.5 834.5,470.5 835.5,470.5 836.5,470.5 837.5,470.5 838.5,470.5 839.5,470.5 840.5,470.5 841.5,470.5 842.5,470.5 843.5,470.5 844.5,470.5 845.5,470.5 846.5,469.5 847.5,469.5 848.5,469.5 849.5,469.5 850.5,469.5 851.5,469.5 852.5,469.5 853.5,469.5 854.5,469.5 855.5,469.5 856.5,469.5 857.5,469.5 858.5,469.5 859.5,469.5 860.5,469.5 861.5,469.5 862.5,469.5 863.5,469.5 864.5,469.5 865.5,469.5 866.5,469.5 867.5,469.5 868.5,469.5 869.5,469.5 870.5,470.5 871.5,470.5 872.5,470.5 873.5,470.5 874.5,470.5 875.5,470.5 876.5,470.5 877.5,471.5 878.5,471.5 879.5,471.5 880.5,471.5 881.5,471.5 882.5,471.5 883.5,471.5 884.5,472.5 885.5,472.5 886.5,472.5 887.5,472.5 888.5,473.5 889.5,473.5 890.5,473.5 891.5,473.5 892.5,473.5 893.5,474.5 894.5,474.5 895.5,474.5 896.5,474.5 897.5,474.5 898.5,475.5 899.5,475.5 900.5,475.5 901.5,475.5 902.5,476.5 903.5,476.5 904.5,476.5 905.5,476.5 906.5,476.5 907.5,477.5 908.5,477.5 909.5,477.5 910.5,477.5" fill="none" stroke="#ff0000" stroke-width="1" stroke-dasharray="3 3"/>
</svg>
<rect x="5" y="454" width="1152" height="1" fill="#000"/>
<rect x="5" y="516" width="1152" height="1" fill="#000"/>
<rect x="5" y="454" width="1" height="63" fill="#000"/>
<rect x="1156" y="454" width="1" height="63" fill="#000"/>
<text x="10.8" y="466.6" font-size="9.2" fill="#000" stroke="#000" stroke-width="0.12" textLength="147.2" lengthAdjust="spacingAndGlyphs">MACD(12,26,9) 0.001168 0.002225</text>
<rect x="1157" y="456" width="3" height="1" fill="#000"/>
<rect x="1157" y="491" width="3" height="1" fill="#000"/>
<rect x="1157" y="515" width="3" height="1" fill="#000"/>
<text x="1160.1" y="464.8" font-size="9.2" fill="#000" stroke="#000" stroke-width="0.12" textLength="38.2" lengthAdjust="spacingAndGlyphs">0.005802</text>
<text x="1160.1" y="494.7" font-size="9.2" fill="#000" stroke="#000" stroke-width="0.12" textLength="18.2" lengthAdjust="spacingAndGlyphs">0.00</text>
<text x="1160.1" y="512.7" font-size="9.2" fill="#000" stroke="#000" stroke-width="0.12" textLength="41.5" lengthAdjust="spacingAndGlyphs">-0.003945</text>
<rect x="5" y="517" width="1152" height="1" fill="#f8f8f8"/>
<svg x="6" y="519" width="1150" height="78" viewBox="6 519 1150 78" overflow="hidden">
<line x1="7" y1="543.5" x2="1156" y2="543.5" stroke="#a8a8a8" stroke-width="1" stroke-dasharray="3 3"/>
<line x1="7" y1="573.5" x2="1156" y2="573.5" stroke="#a8a8a8" stroke-width="1" stroke-dasharray="3 3"/>
<polyline points="6.5,546.5 14.5,544.5 22.5,544.5 30.5,545.5 38.5,549.5 46.5,545.5 54.5,543.5 62.5,548.5 70.5,549.5 78.5,546.5 86.5,543.5 94.5,542.5 102.5,546.5 110.5,546.5 118.5,545.5 126.5,544.5 134.5,546.5 142.5,554.5 150.5,551.5 158.5,548.5 166.5,548.5 174.5,545.5 182.5,545.5 190.5,547.5 198.5,550.5 206.5,556.5 214.5,559.5 222.5,566.5 230.5,566.5 238.5,564.5 246.5,564.5 254.5,560.5 262.5,560.5 270.5,558.5 278.5,558.5 286.5,556.5 294.5,562.5 302.5,558.5 310.5,557.5 318.5,559.5 326.5,560.5 334.5,559.5 342.5,567.5 350.5,567.5 358.5,570.5 366.5,570.5 374.5,564.5 382.5,564.5 390.5,562.5 398.5,557.5 406.5,555.5 414.5,560.5 422.5,562.5 430.5,562.5 438.5,561.5 446.5,565.5 454.5,558.5 462.5,565.5 470.5,568.5 478.5,563.5 486.5,563.5 494.5,568.5 502.5,566.5 510.5,566.5 518.5,570.5 526.5,561.5 534.5,559.5 542.5,563.5 550.5,562.5 558.5,567.5 566.5,567.5 574.5,570.5 582.5,566.5 590.5,563.5 598.5,561.5 606.5,564.5 614.5,558.5 622.5,554.5 630.5,551.5 638.5,550.5 646.5,551.5 654.5,548.5 662.5,549.5 670.5,551.5 678.5,552.5 686.5,555.5 694.5,555.5 702.5,557.5 710.5,553.5 718.5,550.5 726.5,558.5 734.5,555.5 742.5,554.5 750.5,552.5 758.5,549.5 766.5,549.5 774.5,549.5 782.5,549.5 790.5,550.5 798.5,546.5 806.5,543.5 814.5,543.5 822.5,544.5 830.5,544.5 838.5,548.5 846.5,550.5 854.5,553.5 862.5,558.5 870.5,558.5 878.5,557.5 886.5,557.5 894.5,557.5 902.5,556.5 910.5,557.5" fill="none" stroke="#1e90ff" stroke-width="1"/>
</svg>
<rect x="5" y="518" width="1152" height="1" fill="#000"/>
<rect x="5" y="597" width="1152" height="1" fill="#000"/>
<rect x="5" y="518" width="1" height="80" fill="#000"/>
<rect x="1156" y="518" width="1" height="80" fill="#000"/>
<text x="10.3" y="531" font-size="9.2" fill="#000" stroke="#000" stroke-width="0.12" textLength="67.8" lengthAdjust="spacingAndGlyphs">RSI(14) 51.8033</text>
<text x="1160.1" y="529.2" font-size="9.2" fill="#000" stroke="#000" stroke-width="0.12">100</text>
<rect x="1157" y="543" width="3" height="1" fill="#000"/>
<text x="1160.1" y="546.5" font-size="9.2" fill="#000" stroke="#000" stroke-width="0.12">70</text>
<rect x="1157" y="573" width="3" height="1" fill="#000"/>
<text x="1160.1" y="577.1" font-size="9.2" fill="#000" stroke="#000" stroke-width="0.12">30</text>
<text x="1160.1" y="593.8" font-size="9.2" fill="#000" stroke="#000" stroke-width="0.12">0</text>
<rect x="6" y="598" width="1" height="3" fill="#000"/>
<text x="5.2" y="609.9" font-size="8.9" fill="#000" stroke="#000" stroke-width="0.05" textLength="50.8" lengthAdjust="spacingAndGlyphs">18 Oct 2018</text>
<rect x="70" y="598" width="1" height="3" fill="#000"/>
<text x="68.7" y="609.9" font-size="8.9" fill="#000" stroke="#000" stroke-width="0.05" textLength="51.5" lengthAdjust="spacingAndGlyphs">27 Oct 2018</text>
<rect x="134" y="598" width="1" height="3" fill="#000"/>
<text x="132.5" y="609.9" font-size="8.9" fill="#000" stroke="#000" stroke-width="0.05" textLength="49.7" lengthAdjust="spacingAndGlyphs">6 Nov 2018</text>
<rect x="198" y="598" width="1" height="3" fill="#000"/>
<text x="197.2" y="609.9" font-size="8.9" fill="#000" stroke="#000" stroke-width="0.05" textLength="53.8" lengthAdjust="spacingAndGlyphs">15 Nov 2018</text>
<rect x="262" y="598" width="1" height="3" fill="#000"/>
<text x="261.2" y="609.9" font-size="8.9" fill="#000" stroke="#000" stroke-width="0.05" textLength="53.7" lengthAdjust="spacingAndGlyphs">24 Nov 2018</text>
<rect x="326" y="598" width="1" height="3" fill="#000"/>
<text x="325.0" y="609.9" font-size="8.9" fill="#000" stroke="#000" stroke-width="0.05" textLength="47.2" lengthAdjust="spacingAndGlyphs">4 Dec 2018</text>
<rect x="390" y="598" width="1" height="3" fill="#000"/>
<text x="389.4" y="609.9" font-size="8.9" fill="#000" stroke="#000" stroke-width="0.05" textLength="51.7" lengthAdjust="spacingAndGlyphs">13 Dec 2018</text>
<rect x="454" y="598" width="1" height="3" fill="#000"/>
<text x="453.2" y="609.9" font-size="8.9" fill="#000" stroke="#000" stroke-width="0.05" textLength="52.2" lengthAdjust="spacingAndGlyphs">22 Dec 2018</text>
<rect x="518" y="598" width="1" height="3" fill="#000"/>
<text x="517.5" y="609.9" font-size="8.9" fill="#000" stroke="#000" stroke-width="0.05" textLength="44.7" lengthAdjust="spacingAndGlyphs">1 Jan 2019</text>
<rect x="582" y="598" width="1" height="3" fill="#000"/>
<text x="581.4000000000001" y="609.9" font-size="8.9" fill="#000" stroke="#000" stroke-width="0.05" textLength="49.7" lengthAdjust="spacingAndGlyphs">10 Jan 2019</text>
<rect x="646" y="598" width="1" height="3" fill="#000"/>
<text x="645.2" y="609.9" font-size="8.9" fill="#000" stroke="#000" stroke-width="0.05" textLength="50.2" lengthAdjust="spacingAndGlyphs">19 Jan 2019</text>
<rect x="710" y="598" width="1" height="3" fill="#000"/>
<text x="709.2" y="609.9" font-size="8.9" fill="#000" stroke="#000" stroke-width="0.05" textLength="50.0" lengthAdjust="spacingAndGlyphs">29 Jan 2019</text>
<rect x="774" y="598" width="1" height="3" fill="#000"/>
<text x="773.1" y="609.9" font-size="8.9" fill="#000" stroke="#000" stroke-width="0.05" textLength="47.1" lengthAdjust="spacingAndGlyphs">7 Feb 2019</text>
<rect x="838" y="598" width="1" height="3" fill="#000"/>
<text x="837.4000000000001" y="609.9" font-size="8.9" fill="#000" stroke="#000" stroke-width="0.05" textLength="51.7" lengthAdjust="spacingAndGlyphs">16 Feb 2019</text>
<rect x="902" y="598" width="1" height="3" fill="#000"/>
<text x="900.9000000000001" y="609.9" font-size="8.9" fill="#000" stroke="#000" stroke-width="0.05" textLength="52.5" lengthAdjust="spacingAndGlyphs">26 Feb 2019</text>
<rect x="0" y="618" width="1197" height="1" fill="#e6e6e6"/>
<rect x="0" y="619" width="1197" height="1" fill="#ffffff"/>
<rect x="1" y="620" width="1196" height="1" fill="#000"/>
<rect x="2" y="621" width="1195" height="1" fill="#ffffff"/>
<rect x="3" y="622" width="1194" height="17" fill="#f0f0f0"/>
<rect x="2" y="621" width="1" height="18" fill="#808080"/>
<rect x="0" y="638" width="3" height="1" fill="#808080"/>
<rect x="0" y="639" width="1197" height="1" fill="#e3e3e3"/>
<rect x="0" y="640" width="1197" height="1" fill="#fafafa"/>
<rect x="215" y="620" width="100" height="19" fill="#000"/>
<rect x="216" y="618" width="98" height="20" fill="#ffffff"/>
<rect x="315" y="621" width="1" height="18" fill="#dcdcdc"/>
<text x="19.0" y="634.8" font-size="12" fill="#6d6d6d" textLength="80.3" lengthAdjust="spacingAndGlyphs" class="l">EURUSD,Daily</text>
<text x="121.89999999999999" y="634.8" font-size="12" fill="#6d6d6d" textLength="82.1" lengthAdjust="spacingAndGlyphs" class="l">AUDUSD,Daily</text>
<text x="324.6" y="634.8" font-size="12" fill="#6d6d6d" textLength="95.7" lengthAdjust="spacingAndGlyphs" class="l">USDCAD,Weekly</text>
<text x="440.90000000000003" y="634.8" font-size="12" fill="#6d6d6d" textLength="71.0" lengthAdjust="spacingAndGlyphs" class="l">USDCNH,H4</text>
<text x="533.2" y="634.8" font-size="12" fill="#6d6d6d" textLength="75.1" lengthAdjust="spacingAndGlyphs" class="l">USDJPY,Daily</text>
<text x="629.5" y="634.8" font-size="12" fill="#6d6d6d" textLength="81.9" lengthAdjust="spacingAndGlyphs" class="l">XAUUSD,Daily</text>
<text x="733.2" y="634.8" font-size="12" fill="#6d6d6d" textLength="98.6" lengthAdjust="spacingAndGlyphs" class="l">GBPUSD,Monthly</text>
<text x="854.9" y="634.8" font-size="12" fill="#6d6d6d" textLength="64.1" lengthAdjust="spacingAndGlyphs" class="l">SP500,M15</text>
<text x="943.0" y="634.8" font-size="12" fill="#6d6d6d" textLength="67.8" lengthAdjust="spacingAndGlyphs" class="l">GBPUSD,H1</text>
<text x="1033.3" y="634.8" font-size="12" fill="#6d6d6d" textLength="47.1" lengthAdjust="spacingAndGlyphs" class="l">DJ30,H4</text>
<text x="1100.8999999999999" y="634.8" font-size="12" fill="#6d6d6d" textLength="63.8" lengthAdjust="spacingAndGlyphs" class="l">TECH100,H</text>
<text x="225.1" y="634.8" font-size="12" fill="#000" textLength="79.1" lengthAdjust="spacingAndGlyphs" class="l">USDCHF,Daily</text>
<rect x="111" y="624" width="1" height="13" fill="#808080"/>
<rect x="431" y="624" width="1" height="13" fill="#808080"/>
<rect x="523" y="624" width="1" height="13" fill="#808080"/>
<rect x="620" y="624" width="1" height="13" fill="#808080"/>
<rect x="723" y="624" width="1" height="13" fill="#808080"/>
<rect x="843" y="624" width="1" height="13" fill="#808080"/>
<rect x="931" y="624" width="1" height="13" fill="#808080"/>
<rect x="1023" y="624" width="1" height="13" fill="#808080"/>
<rect x="1091" y="624" width="1" height="13" fill="#808080"/>
<rect x="1165" y="622" width="32" height="17" fill="#f0f0f0"/>
<polygon points="1175.2,626.2 1175.2,632.3 1172.2,629.25" fill="#8a8a8a"/>
<polygon points="1191,626 1191,632.5 1194.5,629.25" fill="#000"/>
</svg>
</body></html>
